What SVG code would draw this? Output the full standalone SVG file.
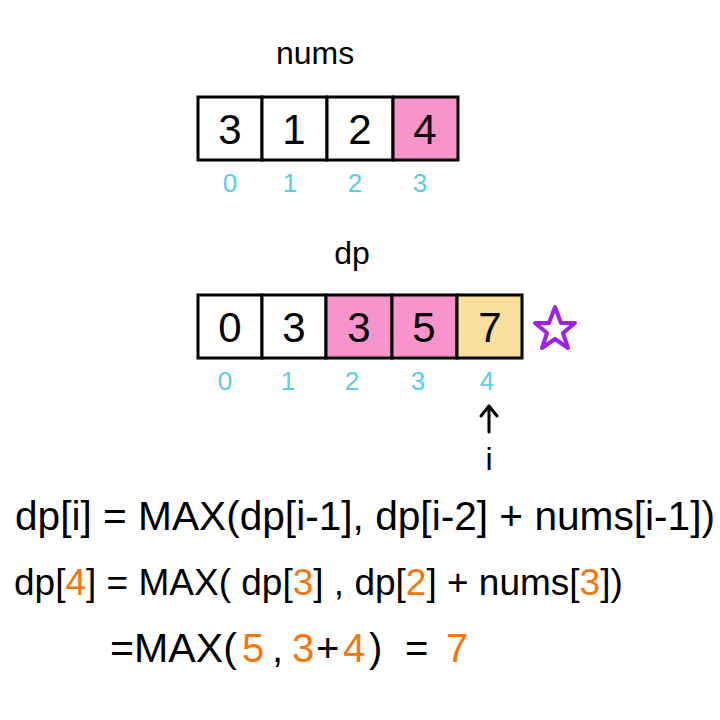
<svg xmlns="http://www.w3.org/2000/svg" width="720" height="720" viewBox="0 0 720 720">
<style>
.cell{stroke:#000;stroke-width:3;fill:#fff}
.pink{fill:#F993CC}
.yellow{fill:#F9DF9E}
.val{font-family:"Liberation Sans",sans-serif;font-size:42px;text-anchor:middle;fill:#000}
.idx{font-family:"Liberation Sans",sans-serif;font-size:26px;text-anchor:middle;fill:#5CCBE3}
.lbl{font-family:"Liberation Sans",sans-serif;font-size:32px;text-anchor:middle;fill:#000}
.f{font-family:"Liberation Sans",sans-serif;font-size:40px;fill:#000}
.o{fill:#F5760F}
</style>
<rect width="720" height="720" fill="#fff"/>
<g id="nums">
<text class="lbl" x="315" y="64">nums</text>
<rect class="cell" x="198" y="97" width="64" height="63"/>
<rect class="cell" x="262" y="97" width="65" height="63"/>
<rect class="cell" x="327" y="97" width="66" height="63"/>
<rect class="cell pink" x="393" y="97" width="65" height="63"/>
<text class="val" x="230" y="144">3</text>
<text class="val" x="294" y="144">1</text>
<text class="val" x="360" y="144">2</text>
<text class="val" x="425" y="144">4</text>
<text class="idx" x="230" y="192">0</text>
<text class="idx" x="290" y="192">1</text>
<text class="idx" x="355" y="192">2</text>
<text class="idx" x="420" y="192">3</text>
</g>
<g id="dp">
<text class="lbl" x="352" y="264">dp</text>
<rect class="cell" x="198" y="295" width="64" height="63"/>
<rect class="cell" x="262" y="295" width="64" height="63"/>
<rect class="cell pink" x="326" y="295" width="66" height="63"/>
<rect class="cell pink" x="392" y="295" width="65" height="63"/>
<rect class="cell yellow" x="457" y="295" width="65" height="63"/>
<text class="val" x="230" y="342">0</text>
<text class="val" x="294" y="342">3</text>
<text class="val" x="359" y="342">3</text>
<text class="val" x="424" y="342">5</text>
<text class="val" x="490" y="342">7</text>
<text class="idx" x="225" y="390">0</text>
<text class="idx" x="288" y="390">1</text>
<text class="idx" x="352" y="390">2</text>
<text class="idx" x="418" y="390">3</text>
<text class="idx" x="487" y="390">4</text>
</g>
<g id="star">
<polygon points="555,307 561,323 575,323 563,333 568,348 555,339 542,348 547,333 535,323 549,323" fill="none" stroke="#A020F0" stroke-width="4" stroke-linejoin="round"/>
</g>
<g id="pointer">
<text class="lbl" x="489" y="470">i</text>
</g>
<g id="connectors">
<path d="M489,432 L489,406 M481,416 L489,406 L497,416" fill="none" stroke="#000" stroke-width="3" stroke-linecap="round" stroke-linejoin="round"/>
</g>
<g id="formula1">
<text class="f" x="15" y="530" textLength="700" lengthAdjust="spacingAndGlyphs">dp[i] = MAX(dp[i-1], dp[i-2] + nums[i-1])</text>
</g>
<g id="formula2">
<text class="f" x="14" y="595" style="font-size:37px">dp[<tspan class="o">4</tspan>] = MAX( dp[<tspan class="o">3</tspan>] , dp[<tspan class="o">2</tspan>] + nums[<tspan class="o">3</tspan>])</text>
</g>
<g id="formula3">
<text class="f" x="110" y="662" textLength="127" lengthAdjust="spacingAndGlyphs">=MAX(</text>
<text class="f o" x="242" y="662">5</text>
<text class="f" x="272" y="662">,</text>
<text class="f o" x="292" y="662">3</text>
<text class="f" x="316" y="662">+</text>
<text class="f o" x="343" y="662">4</text>
<text class="f" x="369" y="662">)</text>
<text class="f" x="405" y="662">=</text>
<text class="f o" x="446" y="662">7</text>
</g>
</svg>
